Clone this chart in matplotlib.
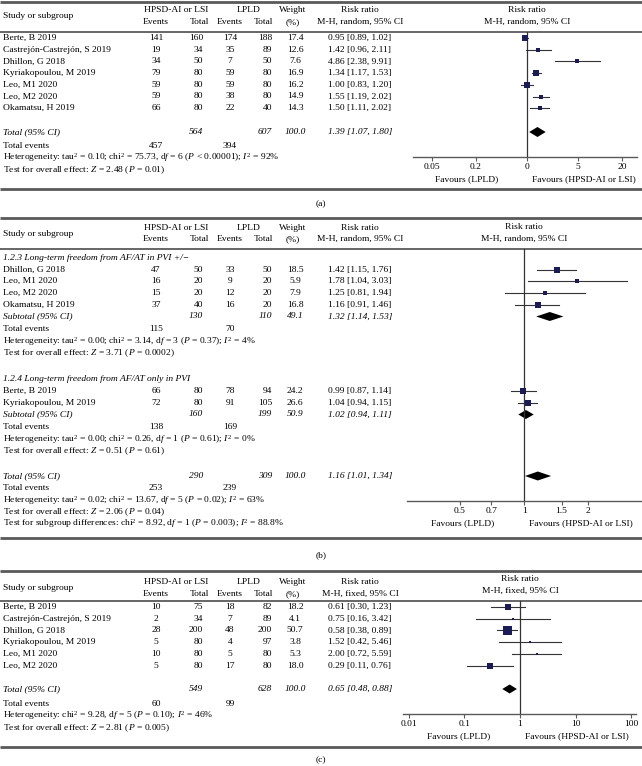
import matplotlib
matplotlib.use('Agg')
import matplotlib.pyplot as plt

plt.rcParams['font.family'] = ['Liberation Serif', 'DejaVu Serif']
plt.rcParams['mathtext.fontset'] = 'custom'
plt.rcParams['mathtext.rm'] = 'Liberation Serif'
plt.rcParams['mathtext.it'] = 'Liberation Serif:italic'

# ---- data: panel (a)
a_studies = ['Berte, B 2019', 'Castrejón-Castrejón, S 2019', 'Dhillon, G 2018',
             'Kyriakopoulou, M 2019', 'Leo, M1 2020', 'Leo, M2 2020', 'Okamatsu, H 2019']
a_ev1 = [141, 19, 34, 79, 59, 59, 66]
a_n1 = [160, 34, 50, 80, 80, 80, 80]
a_ev2 = [174, 35, 7, 59, 59, 38, 22]
a_n2 = [188, 89, 50, 80, 80, 80, 40]
a_w = [17.4, 12.6, 7.6, 16.9, 16.2, 14.9, 14.3]
a_rr = [0.95, 1.42, 4.86, 1.34, 1.00, 1.55, 1.50]
a_lo = [0.89, 0.96, 2.38, 1.17, 0.83, 1.19, 1.11]
a_hi = [1.02, 2.11, 9.91, 1.53, 1.20, 2.02, 2.02]
a_tot = [564, 607, 100.0, 1.39, 1.07, 1.80]
a_events = [457, 394]
a_het = 'Heterogeneity: tau$^2$ = 0.10; chi$^2$ = 75.73, d$f$ = 6 ($P$ < 0.00001); $I^2$ = 92%'
a_test = 'Test for overall effect: $Z$ = 2.48 ($P$ = 0.01)'
a_ticks = [0.05, 0.2, 1, 5, 20]
a_ticklabels = ['0.05', '0.2', '0', '5', '20']

# ---- data: panel (b)
b1_label = '1.2.3 Long-term freedom from AF/AT in PVI +/−'
b1_studies = ['Dhillon, G 2018', 'Leo, M1 2020', 'Leo, M2 2020', 'Okamatsu, H 2019']
b1_ev1 = [47, 16, 15, 37]
b1_n1 = [50, 20, 20, 40]
b1_ev2 = [33, 9, 12, 16]
b1_n2 = [50, 20, 20, 20]
b1_w = [18.5, 5.9, 7.9, 16.8]
b1_rr = [1.42, 1.78, 1.25, 1.16]
b1_lo = [1.15, 1.04, 0.81, 0.91]
b1_hi = [1.76, 3.03, 1.94, 1.46]
b1_sub = [130, 110, 49.1, 1.32, 1.14, 1.53]
b1_events = [115, 70]
b1_het = 'Heterogeneity: tau$^2$ = 0.00; chi$^2$ = 3.14, d$f$ = 3 ($P$ = 0.37); $I^2$ = 4%'
b1_test = 'Test for overall effect: $Z$ = 3.71 ($P$ = 0.0002)'

b2_label = '1.2.4 Long-term freedom from AF/AT only in PVI'
b2_studies = ['Berte, B 2019', 'Kyriakopoulou, M 2019']
b2_ev1 = [66, 72]
b2_n1 = [80, 80]
b2_ev2 = [78, 91]
b2_n2 = [94, 105]
b2_w = [24.2, 26.6]
b2_rr = [0.99, 1.04]
b2_lo = [0.87, 0.94]
b2_hi = [1.14, 1.15]
b2_sub = [160, 199, 50.9, 1.02, 0.94, 1.11]
b2_events = [138, 169]
b2_het = 'Heterogeneity: tau$^2$ = 0.00; chi$^2$ = 0.26, d$f$ = 1 ($P$ = 0.61); $I^2$ = 0%'
b2_test = 'Test for overall effect: $Z$ = 0.51 ($P$ = 0.61)'

b_tot = [290, 309, 100.0, 1.16, 1.01, 1.34]
b_events = [253, 239]
b_het = 'Heterogeneity: tau$^2$ = 0.02; chi$^2$ = 13.67, d$f$ = 5 ($P$ = 0.02); $I^2$ = 63%'
b_test = 'Test for overall effect: $Z$ = 2.06 ($P$ = 0.04)'
b_subdiff = 'Test for subgroup differences: chi$^2$ = 8.92, d$f$ = 1 ($P$ = 0.003); $I^2$ = 88.8%'
b_ticks = [0.5, 0.7, 1, 1.5, 2]
b_ticklabels = ['0.5', '0.7', '1', '1.5', '2']

# ---- data: panel (c)
c_studies = ['Berte, B 2019', 'Castrejón-Castrejón, S 2019', 'Dhillon, G 2018',
             'Kyriakopoulou, M 2019', 'Leo, M1 2020', 'Leo, M2 2020']
c_ev1 = [10, 2, 28, 5, 10, 5]
c_n1 = [75, 34, 200, 80, 80, 80]
c_ev2 = [18, 7, 48, 4, 5, 17]
c_n2 = [82, 89, 200, 97, 80, 80]
c_w = [18.2, 4.1, 50.7, 3.8, 5.3, 18.0]
c_rr = [0.61, 0.75, 0.58, 1.52, 2.00, 0.29]
c_lo = [0.30, 0.16, 0.38, 0.42, 0.72, 0.11]
c_hi = [1.23, 3.42, 0.89, 5.46, 5.59, 0.76]
c_tot = [549, 628, 100.0, 0.65, 0.48, 0.88]
c_events = [60, 99]
c_het = 'Heterogeneity: chi$^2$ = 9.28, d$f$ = 5 ($P$ = 0.10); $I^2$ = 46%'
c_test = 'Test for overall effect: $Z$ = 2.81 ($P$ = 0.005)'
c_ticks = [0.01, 0.1, 1, 10, 100]
c_ticklabels = ['0.01', '0.1', '1', '10', '100']

# ---- layout
W, H = 642, 766
FS = 6.8
X_NAME, X_EV1, X_N1, X_EV2, X_N2, X_W, X_RR = 3, 156, 203, 230, 272, 295, 360
LINE = '#5a5a5a'
SQ = '#1b1b55'

fig = plt.figure(figsize=(W / 100, H / 100), dpi=100)
bg = fig.add_axes([0, 0, 1, 1])
bg.set_xlim(0, W)
bg.set_ylim(H, 0)
bg.axis('off')


def txt(x, y, s, ha='left', italic=False):
    bg.text(x, y, s, ha=ha, va='center', fontsize=FS,
            style='italic' if italic else 'normal')


def hline(y, lw):
    bg.plot([0, W], [y, y], color=LINE, lw=lw, solid_capstyle='butt')


def header(y1, y2, method):
    txt(X_NAME, (y1 + y2) / 2, 'Study or subgroup')
    txt(176, y1, 'HPSD-AI or LSI', 'center')
    txt(X_EV1, y2, 'Events', 'center')
    txt(199, y2, 'Total', 'center')
    txt(249, y1, 'LPLD', 'center')
    txt(X_EV2, y2, 'Events', 'center')
    txt(263, y2, 'Total', 'center')
    txt(293, y1, 'Weight', 'center')
    txt(293, y2, '(%)', 'center')
    txt(X_RR, y1, 'Risk ratio', 'center')
    txt(X_RR, y2, method, 'center')


def study_rows(ys, names, ev1, n1, ev2, n2, w, rr, lo, hi):
    for i, y in enumerate(ys):
        txt(X_NAME, y, names[i])
        txt(X_EV1, y, str(ev1[i]), 'center')
        txt(X_N1, y, str(n1[i]), 'right')
        txt(X_EV2, y, str(ev2[i]), 'center')
        txt(X_N2, y, str(n2[i]), 'right')
        txt(X_W, y, '%.1f' % w[i], 'center')
        txt(X_RR, y, '%.2f [%.2f, %.2f]' % (rr[i], lo[i], hi[i]), 'center')


def total_row(y, label, tot):
    txt(X_NAME, y, label, italic=True)
    txt(X_N1, y, str(tot[0]), 'right', True)
    txt(X_N2, y, str(tot[1]), 'right', True)
    txt(X_W, y, '%.1f' % tot[2], 'center', True)
    txt(X_RR, y, '%.2f [%.2f, %.2f]' % (tot[3], tot[4], tot[5]), 'center', True)


def events_row(y, ev):
    txt(X_NAME, y, 'Total events')
    txt(X_EV1, y, str(ev[0]), 'center')
    txt(X_EV2, y, str(ev[1]), 'center')


def forest(x0, x1, y0, y1, xlim, ticks, ticklabels, x_one, method):
    ax = fig.add_axes([x0 / W, 1 - y1 / H, (x1 - x0) / W, (y1 - y0) / H])
    ax.set_xscale('log')
    ax.set_xlim(xlim)
    ax.set_ylim(y1, y0)
    ax.patch.set_alpha(0)
    for s in ['top', 'left', 'right']:
        ax.spines[s].set_visible(False)
    ax.spines['bottom'].set_color(LINE)
    ax.spines['bottom'].set_linewidth(1.0)
    ax.axvline(1, color='#333333', lw=0.9)
    ax.set_xticks(ticks)
    ax.set_xticklabels(ticklabels)
    ax.minorticks_off()
    ax.set_yticks([])
    ax.tick_params(axis='x', length=3, width=0.8, color=LINE, labelsize=FS, pad=1.5)
    bg.text(x_one, y0 - 22, 'Risk ratio', ha='center', va='center', fontsize=FS)
    bg.text(x_one, y0 - 10, method, ha='center', va='center', fontsize=FS)
    bg.text((x0 + x_one) / 2 - 3, y1 + 22, 'Favours (LPLD)', ha='center', va='center', fontsize=FS)
    bg.text(x_one + 57, y1 + 22, 'Favours (HPSD-AI or LSI)', ha='center', va='center', fontsize=FS)
    return ax


def draw_studies(ax, ys, rr, lo, hi, w):
    for i, y in enumerate(ys):
        ax.plot([lo[i], hi[i]], [y, y], color='#333333', lw=0.8)
        ms = 9 * 0.72 * (w[i] / 50.7) ** 0.5
        ax.plot(rr[i], y, 's', ms=max(ms, 2.0), color=SQ, mec=SQ, mew=0)


def diamond(ax, y, tot, h=4.5):
    ax.fill([tot[4], tot[3], tot[5], tot[3]], [y, y - h, y, y + h], color='black', lw=0)


# =============== panel (a)
hline(2, 2.0)
header(10, 22, 'M-H, random, 95% CI')
hline(32, 1.3)
ya = [38 + 11.7 * i for i in range(len(a_studies))]
study_rows(ya, a_studies, a_ev1, a_n1, a_ev2, a_n2, a_w, a_rr, a_lo, a_hi)
total_row(132, 'Total (95% CI)', a_tot)
events_row(146.5, a_events)
txt(X_NAME, 158, a_het)
txt(X_NAME, 170, a_test)
axa = forest(413, 637, 32, 157, (0.0274, 32.1), a_ticks, a_ticklabels, 527, 'M-H, random, 95% CI')
draw_studies(axa, ya, a_rr, a_lo, a_hi, a_w)
diamond(axa, 132, a_tot, 5)
hline(189, 2.0)
txt(321, 204, '(a)', 'center')

# =============== panel (b)
hline(218, 2.0)
header(228, 239, 'M-H, random, 95% CI')
hline(249, 1.3)
txt(X_NAME, 258, b1_label, italic=True)
yb1 = [269.5 + 11.8 * i for i in range(len(b1_studies))]
study_rows(yb1, b1_studies, b1_ev1, b1_n1, b1_ev2, b1_n2, b1_w, b1_rr, b1_lo, b1_hi)
total_row(316.5, 'Subtotal (95% CI)', b1_sub)
events_row(329, b1_events)
txt(X_NAME, 341, b1_het)
txt(X_NAME, 353, b1_test)
txt(X_NAME, 379, b2_label, italic=True)
yb2 = [391 + 11.8 * i for i in range(len(b2_studies))]
study_rows(yb2, b2_studies, b2_ev1, b2_n1, b2_ev2, b2_n2, b2_w, b2_rr, b2_lo, b2_hi)
total_row(414.5, 'Subtotal (95% CI)', b2_sub)
events_row(427, b2_events)
txt(X_NAME, 439, b2_het)
txt(X_NAME, 451, b2_test)
total_row(476, 'Total (95% CI)', b_tot)
events_row(488.5, b_events)
txt(X_NAME, 500.5, b_het)
txt(X_NAME, 512, b_test)
txt(X_NAME, 523.5, b_subdiff)
axb = forest(407, 641, 249, 501, (0.282, 3.54), b_ticks, b_ticklabels, 524, 'M-H, random, 95% CI')
draw_studies(axb, yb1, b1_rr, b1_lo, b1_hi, b1_w)
draw_studies(axb, yb2, b2_rr, b2_lo, b2_hi, b2_w)
diamond(axb, 316.5, b1_sub)
diamond(axb, 414.5, b2_sub)
diamond(axb, 476, b_tot)
hline(538, 2.0)
txt(321, 555, '(b)', 'center')

# =============== panel (c)
hline(571, 2.0)
header(582, 594, 'M-H, fixed, 95% CI')
hline(601, 1.3)
yc = [607 + 11.7 * i for i in range(len(c_studies))]
study_rows(yc, c_studies, c_ev1, c_n1, c_ev2, c_n2, c_w, c_rr, c_lo, c_hi)
total_row(689, 'Total (95% CI)', c_tot)
events_row(704, c_events)
txt(X_NAME, 716, c_het)
txt(X_NAME, 728, c_test)
axc = forest(403, 636, 601, 714, (0.0078, 123), c_ticks, c_ticklabels, 520, 'M-H, fixed, 95% CI')
draw_studies(axc, yc, c_rr, c_lo, c_hi, c_w)
diamond(axc, 689, c_tot)
hline(747, 2.0)
txt(321, 760, '(c)', 'center')

fig.savefig('out.png', dpi=100)
